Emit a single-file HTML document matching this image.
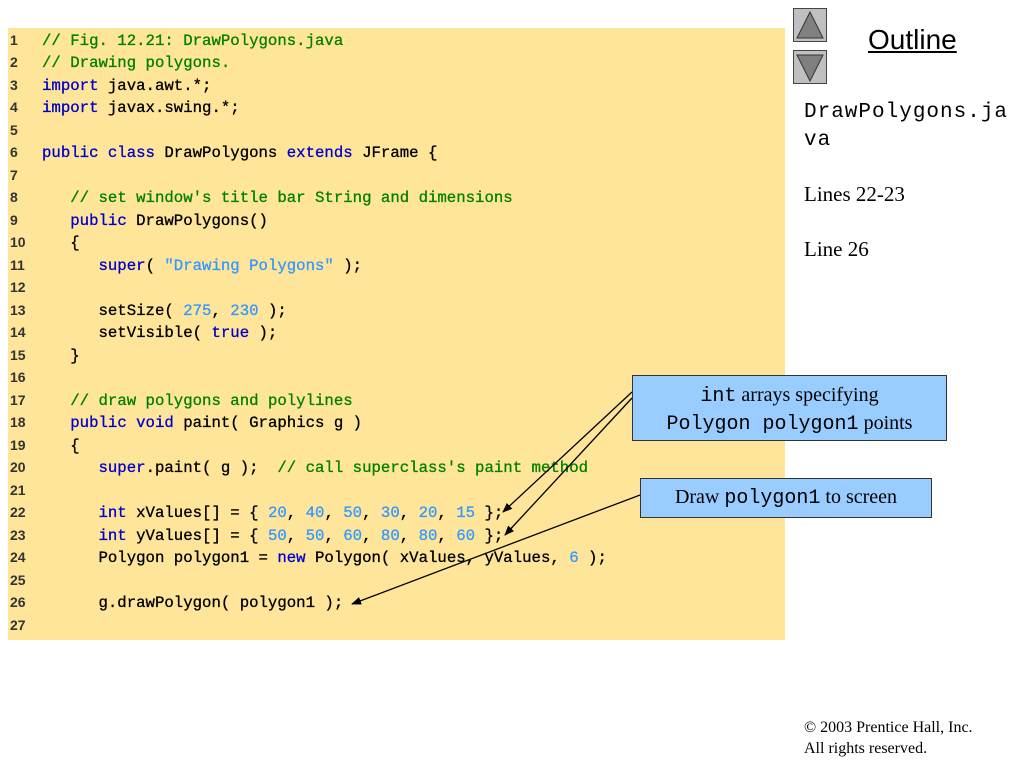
<!DOCTYPE html>
<html><head><style>
body{margin:0;width:1024px;height:768px;background:#fff;position:relative;overflow:hidden;font-family:"Liberation Serif",serif}
.code{position:absolute;left:8px;top:28px;width:777px;height:612px;background:#FFE599}
.ln{position:absolute;left:10px;font:bold 14px "Liberation Sans",sans-serif;color:#333}
.l{position:absolute;left:42px;font:15.7px "Liberation Mono",monospace;white-space:pre;color:#000;-webkit-text-stroke:0.3px}
.c{color:#008000}.k{color:#0000CC}.n{color:#3399FF}
.box{position:absolute;background:#99CCFF;border:1.5px solid #333;text-align:center;color:#000;font-size:20px}
.m{font-family:"Liberation Mono",monospace;font-size:20px}
.btn{position:absolute;left:793px;width:34px;height:34px;background:#C0C0C0;border:1px solid #444;box-sizing:border-box}
</style></head><body>
<div class="code"></div>
<div class="ln" style="top:32px">1</div>
<div class="l" style="top:32px"><span class="c">// Fig. 12.21: DrawPolygons.java</span></div>
<div class="ln" style="top:54px">2</div>
<div class="l" style="top:54px"><span class="c">// Drawing polygons.</span></div>
<div class="ln" style="top:77px">3</div>
<div class="l" style="top:77px"><span class="k">import</span> java.awt.*;</div>
<div class="ln" style="top:99px">4</div>
<div class="l" style="top:99px"><span class="k">import</span> javax.swing.*;</div>
<div class="ln" style="top:122px">5</div>
<div class="ln" style="top:144px">6</div>
<div class="l" style="top:144px"><span class="k">public class</span> DrawPolygons <span class="k">extends</span> JFrame {</div>
<div class="ln" style="top:167px">7</div>
<div class="ln" style="top:189px">8</div>
<div class="l" style="top:189px">   <span class="c">// set window's title bar String and dimensions</span></div>
<div class="ln" style="top:212px">9</div>
<div class="l" style="top:212px">   <span class="k">public</span> DrawPolygons()</div>
<div class="ln" style="top:234px">10</div>
<div class="l" style="top:234px">   {</div>
<div class="ln" style="top:257px">11</div>
<div class="l" style="top:257px">      <span class="k">super</span>( <span class="n">"Drawing Polygons"</span> );</div>
<div class="ln" style="top:279px">12</div>
<div class="ln" style="top:302px">13</div>
<div class="l" style="top:302px">      setSize( <span class="n">275</span>, <span class="n">230</span> );</div>
<div class="ln" style="top:324px">14</div>
<div class="l" style="top:324px">      setVisible( <span class="k">true</span> );</div>
<div class="ln" style="top:347px">15</div>
<div class="l" style="top:347px">   }</div>
<div class="ln" style="top:369px">16</div>
<div class="ln" style="top:392px">17</div>
<div class="l" style="top:392px">   <span class="c">// draw polygons and polylines</span></div>
<div class="ln" style="top:414px">18</div>
<div class="l" style="top:414px">   <span class="k">public void</span> paint( Graphics g )</div>
<div class="ln" style="top:437px">19</div>
<div class="l" style="top:437px">   {</div>
<div class="ln" style="top:459px">20</div>
<div class="l" style="top:459px">      <span class="k">super</span>.paint( g );  <span class="c">// call superclass's paint method</span></div>
<div class="ln" style="top:482px">21</div>
<div class="ln" style="top:504px">22</div>
<div class="l" style="top:504px">      <span class="k">int</span> xValues[] = { <span class="n">20</span>, <span class="n">40</span>, <span class="n">50</span>, <span class="n">30</span>, <span class="n">20</span>, <span class="n">15</span> };</div>
<div class="ln" style="top:527px">23</div>
<div class="l" style="top:527px">      <span class="k">int</span> yValues[] = { <span class="n">50</span>, <span class="n">50</span>, <span class="n">60</span>, <span class="n">80</span>, <span class="n">80</span>, <span class="n">60</span> };</div>
<div class="ln" style="top:549px">24</div>
<div class="l" style="top:549px">      Polygon polygon1 = <span class="k">new</span> Polygon( xValues, yValues, <span class="n">6</span> );</div>
<div class="ln" style="top:572px">25</div>
<div class="ln" style="top:594px">26</div>
<div class="l" style="top:594px">      g.drawPolygon( polygon1 );</div>
<div class="ln" style="top:617px">27</div>

<div class="box" style="left:632px;top:375px;width:315px;height:66px;line-height:26px;padding-top:6px;box-sizing:border-box;"><span class="m">int</span> arrays specifying<br><span class="m">Polygon polygon1</span> points</div>
<div class="box" style="left:640px;top:478px;width:290px;height:38px;line-height:38px;"><span style="position:relative;top:-1px">Draw <span class="m">polygon1</span> to screen</span></div>

<svg style="position:absolute;left:0;top:0" width="1024" height="768">
<defs><marker id="a" markerWidth="10" markerHeight="8" refX="9" refY="4" orient="auto" markerUnits="userSpaceOnUse"><path d="M0,0 L10,4 L0,8 z" fill="#000"/></marker></defs>
<g stroke="#000" stroke-width="1.3" fill="none">
<line x1="632" y1="392" x2="503" y2="512" marker-end="url(#a)"/>
<line x1="632" y1="398" x2="505" y2="535" marker-end="url(#a)"/>
<line x1="640" y1="495" x2="352" y2="604" marker-end="url(#a)"/>
</g>
</svg>
<div class="btn" style="top:8px"></div>
<div class="btn" style="top:50px"></div>
<svg style="position:absolute;left:0;top:0" width="1024" height="768">
<path d="M797,38 L810,12 L823,38 z" fill="#808080" stroke="#333"/>
<path d="M797,55 L810,81 L823,55 z" fill="#808080" stroke="#333"/>
</svg>
<div style="position:absolute;left:868px;top:24px;font:28px 'Liberation Sans',sans-serif;text-decoration:underline">Outline</div>
<div style="position:absolute;left:804px;top:99px;font:21px 'Liberation Mono',monospace;letter-spacing:1px;line-height:28px">DrawPolygons.ja<br>va</div>
<div style="position:absolute;left:804px;top:182px;font-size:21px">Lines 22-23</div>
<div style="position:absolute;left:804px;top:237px;font-size:21px">Line 26</div>
<div style="position:absolute;left:804px;top:717px;font-size:16px;line-height:21px">© 2003 Prentice Hall, Inc.<br>All rights reserved.</div>
</body></html>
